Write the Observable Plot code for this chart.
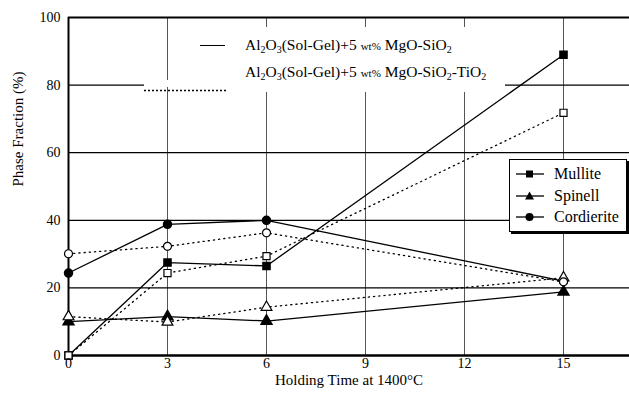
<!DOCTYPE html>
<html>
<head>
<meta charset="utf-8">
<script src="https://cdn.jsdelivr.net/npm/d3@7"></script>
<script src="https://cdn.jsdelivr.net/npm/@observablehq/plot@0.6"></script>
<style>
  html, body { margin: 0; padding: 0; background: #fff; }
  #wrap { position: relative; width: 629px; height: 399px; font-family: "Liberation Serif", "DejaVu Serif", serif; }
  .lg { position: absolute; color: #000; white-space: nowrap; font-family: "Liberation Serif", "DejaVu Serif", serif; }
  .lg * { font-family: "Liberation Serif", "DejaVu Serif", serif; }
  sub { font-size: 10px; vertical-align: -3px; line-height: 0; }
  .sm { font-size: 11px; }
  svg text { font-family: "Liberation Serif", "DejaVu Serif", serif; }
</style>
</head>
<body>
<div id="wrap"></div>
<script>
// Holding times (h)
const times = [0, 3, 6, 15];
// Al2O3(Sol-Gel)+5 wt% MgO-SiO2 (solid line, filled markers)
const mulliteA = [0, 27.5, 26.5, 89];
const spinelA = [10, 11.5, 10.2, 18.8];
const cordieriteA = [24.4, 38.8, 40, 22];
// Al2O3(Sol-Gel)+5 wt% MgO-SiO2-TiO2 (dotted line, open markers)
const mulliteB = [0, 24.4, 29.4, 71.8];
const spinelB = [11.5, 9.9, 14.3, 23];
const cordieriteB = [30.1, 32.3, 36.3, 21.8];

const xTicks = [0, 3, 6, 9, 12, 15];
const yTicks = [0, 20, 40, 60, 80, 100];
const hGrid = [20, 40, 60, 80, 100];
const vGrid = [3, 6, 9, 12, 15];

const phases = [
  {name: "Mullite", symbol: "square", A: mulliteA, B: mulliteB},
  {name: "Spinell", symbol: "triangle", A: spinelA, B: spinelB},
  {name: "Cordierite", symbol: "circle", A: cordieriteA, B: cordieriteB}
];
const rows = [];
for (const p of phases) {
  times.forEach((t, i) => {
    rows.push({phase: p.name, sym: p.symbol, set: "A", t, v: p.A[i]});
    rows.push({phase: p.name, sym: p.symbol, set: "B", t, v: p.B[i]});
  });
}
const rowsA = rows.filter(d => d.set === "A");
const rowsB = rows.filter(d => d.set === "B");

const serif = "'Liberation Serif', 'DejaVu Serif', serif";
const chart = Plot.plot({
  width: 629,
  height: 399,
  marginLeft: 68,
  marginRight: 0,
  marginTop: 17,
  marginBottom: 44,
  style: {fontFamily: serif, fontSize: "14px", background: "#fff", color: "#000"},
  x: {domain: [0, 17]},
  y: {domain: [0, 100]},
  symbol: {domain: ["square", "triangle", "circle"], range: ["square", "triangle", "circle"]},
  marks: [
    Plot.ruleX(vGrid, {stroke: "#555", strokeWidth: 1}),
    Plot.ruleY(hGrid, {stroke: "#000", strokeWidth: 1.2}),
    Plot.ruleY([100], {stroke: "#000", strokeWidth: 2}),
    Plot.ruleY([0], {stroke: "#000", strokeWidth: 2.5}),
    Plot.ruleX([0], {stroke: "#000", strokeWidth: 2}),
    Plot.line(rowsB, {x: "t", y: "v", z: "phase", stroke: "#000", strokeWidth: 1.3, strokeDasharray: "1.2,4"}),
    Plot.line(rowsA, {x: "t", y: "v", z: "phase", stroke: "#000", strokeWidth: 1.3}),
    Plot.dot(rowsA, {x: "t", y: "v", symbol: "sym", fill: "#000", stroke: "#000", r: 4}),
    Plot.dot(rowsB, {x: "t", y: "v", symbol: "sym", fill: "#fff", stroke: "#000", strokeWidth: 1.2, r: 4}),
    Plot.axisX({ticks: xTicks, tickSize: 0, tickPadding: 3, label: null, fontSize: 14, fontFamily: serif}),
    Plot.axisY({ticks: yTicks, tickSize: 0, tickPadding: 8, label: null, fontSize: 14, fontFamily: serif}),
    Plot.text(["Phase Fraction (%)"], {frameAnchor: "left", rotate: -90, dx: -50, fontSize: 15, fontFamily: serif}),
    Plot.text(["Holding Time at 1400°C"], {frameAnchor: "bottom", dy: 29, fontSize: 15, fontFamily: serif})
  ]
});

const wrap = document.getElementById("wrap");
wrap.appendChild(chart);

// Top legend (series)
const topBg = document.createElement("div");
topBg.className = "lg";
topBg.style.cssText = "left:228px;top:27px;width:277px;height:65px;background:#fff;";
wrap.appendChild(topBg);

const solidSample = document.createElement("div");
solidSample.className = "lg";
solidSample.style.cssText = "left:200px;top:45px;width:25px;height:0;border-top:1.3px solid #000;";
wrap.appendChild(solidSample);

const dotSample = document.createElement("div");
dotSample.className = "lg";
dotSample.style.cssText = "left:144px;top:80px;width:84px;height:7px;background:#fff;";
dotSample.innerHTML = '<svg width="84" height="7"><line x1="0" y1="3.5" x2="84" y2="3.5" stroke="#000" stroke-width="1.6" stroke-dasharray="2,2"/></svg>';
wrap.appendChild(dotSample);

const t1 = document.createElement("div");
t1.className = "lg";
t1.style.cssText = "left:245px;top:36px;font-size:15.5px;";
t1.innerHTML = 'Al<sub>2</sub>O<sub>3</sub>(Sol-Gel)+5 <span class="sm">wt%</span> MgO-SiO<sub>2</sub>';
wrap.appendChild(t1);

const t2 = document.createElement("div");
t2.className = "lg";
t2.style.cssText = "left:245px;top:63px;font-size:15.5px;";
t2.innerHTML = 'Al<sub>2</sub>O<sub>3</sub>(Sol-Gel)+5 <span class="sm">wt%</span> MgO-SiO<sub>2</sub>-TiO<sub>2</sub>';
wrap.appendChild(t2);

// Right legend (phases)
const box = document.createElement("div");
box.className = "lg";
box.style.cssText = "left:509px;top:159px;width:116px;height:71px;background:#fff;border:1.5px solid #000;box-shadow:2px 2px 0 #000;";
const symSvg = {
  square: '<rect x="11" y="3.5" width="7" height="7" fill="#000"/>',
  triangle: '<path d="M14.5,2.5 L19,10.5 L10,10.5 Z" fill="#000"/>',
  circle: '<circle cx="14.5" cy="7" r="4" fill="#000"/>'
};
phases.forEach((p, i) => {
  const row = document.createElement("div");
  row.style.cssText = `position:absolute;left:5px;top:${4 + i * 21.5}px;height:20px;display:flex;align-items:center;font-size:16px;font-family:${serif};`;
  row.innerHTML = `<svg width="32" height="14" style="margin-right:7px"><line x1="1" y1="7" x2="29" y2="7" stroke="#000" stroke-width="1.3"/>${symSvg[p.symbol]}</svg><span>${p.name}</span>`;
  box.appendChild(row);
});
wrap.appendChild(box);
</script>
</body>
</html>
